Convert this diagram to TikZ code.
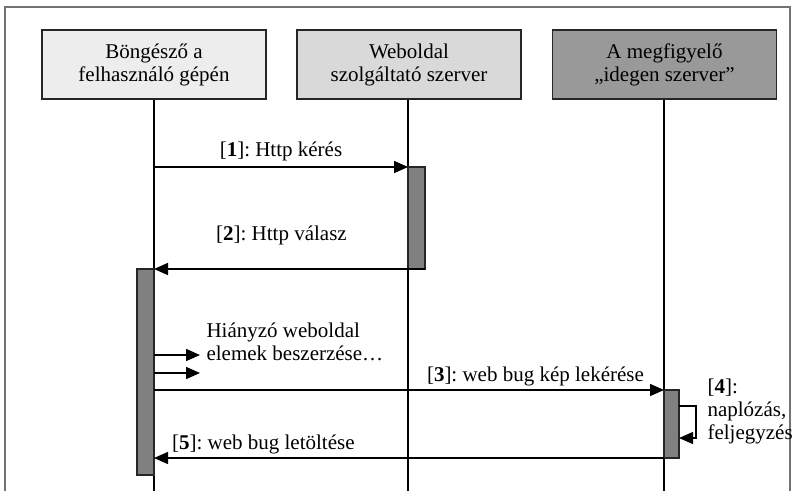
\documentclass[tikz,border=0pt]{standalone}
\usepackage{fontspec}
\setmainfont{Liberation Serif}
\usetikzlibrary{arrows.meta,calc}
\frenchspacing

\tikzset{
	txt/.style={font=\fontsize{21}{23}\selectfont},
	actor/.style={txt, draw=black!85, line width=1.5pt, minimum width=224pt, minimum height=69pt, align=center, inner sep=0pt},
	bar/.style={draw=black!85, fill=black!50, line width=1.5pt, inner sep=0pt, outer sep=0pt},
	msg/.style={line width=1.5pt, -{Triangle[length=14pt,width=12pt]}},
}

\begin{document}
\begin{tikzpicture}[x=1pt, y=-1pt]
	\useasboundingbox (0,0) rectangle (794,490);
	% outer frame
	\draw[black!55, line width=1.5pt] (5,492) -- (5,7) -- (790,7) -- (790,492);

	% Define the participants
	\node[actor, fill=black!7] (brw) at (154,64.5) {Böngésző a\\felhasználó gépén};
	\node[actor, fill=black!15] (web) at (409,64.5) {Weboldal\\szolgáltató szerver};
	\node[actor, fill=black!40] (spy) at (664.5,64.5) {A megfigyelő\\„idegen szerver”};

	% lifelines
	\coordinate (brw-end) at (154,492);
	\coordinate (web-end) at (408,492);
	\coordinate (spy-end) at (664,492);
	\draw[line width=1.5pt] (brw.south -| brw-end) -- (brw-end);
	\draw[line width=1.5pt] (web.south -| web-end) -- (web-end);
	\draw[line width=1.5pt] (spy.south -| spy-end) -- (spy-end);

	% activation bars
	\node[bar, minimum width=17pt, minimum height=102pt] (web-bar) at (416.5,218) {};
	\node[bar, minimum width=17pt, minimum height=206pt] (brw-bar) at (145.5,372) {};
	\node[bar, minimum width=15pt, minimum height=68pt] (spy-bar) at (671.5,424) {};

	% messages
	\draw[msg] (brw-end |- web-bar.north west) -- node[txt, above=2pt] {[\textbf{1}]: Http kérés} (web-bar.north west);
	\draw[msg] (web-bar.south east) -- node[txt, above=20pt, xshift=-8pt] {[\textbf{2}]: Http válasz} (brw-bar.north east);

	\coordinate (get1) at (200,355);
	\coordinate (get2) at (200,373);
	\draw[msg] (brw-bar.east |- get1) -- (get1);
	\draw[msg] (brw-bar.east |- get2) -- (get2);
	\node[txt, anchor=west, align=left] (getlbl) at (203,342) {Hiányzó weboldal\\elemek beszerzése…};

	\draw[msg] (brw-end |- spy-bar.north west) -- node[txt, pos=1, above left, xshift=-16pt] {[\textbf{3}]: web bug kép lekérése} (spy-bar.north west);

	\coordinate (loop-a) at (696,406);
	\coordinate (loop-b) at (696,438);
	\draw[msg] (spy-bar.east |- loop-a) -- (loop-a) -- (loop-b) -- (spy-bar.east |- loop-b);
	\node[txt, anchor=west, align=left] (loglbl) at (704,411) {[\textbf{4}]:\\naplózás,\\feljegyzés};

	\draw[msg] (spy-bar.south west) -- node[txt, pos=1, above right, xshift=14pt] {[\textbf{5}]: web bug letöltése} (brw-bar.east |- spy-bar.south west);
\end{tikzpicture}
\end{document}
